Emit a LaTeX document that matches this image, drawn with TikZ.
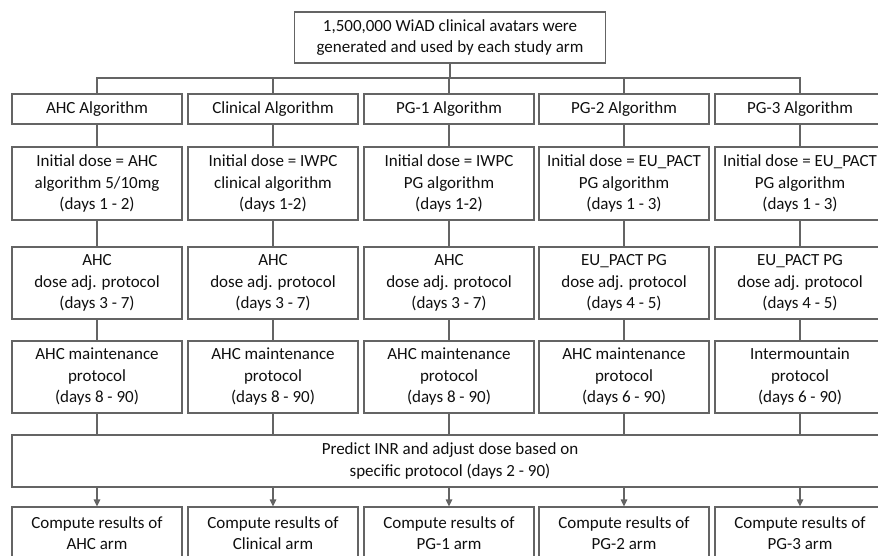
\documentclass[tikz,border=0pt]{standalone}
\usepackage{fontspec}
\setmainfont{Carlito}
\usetikzlibrary{arrows.meta}
\definecolor{linegray}{RGB}{100,100,100}
\definecolor{textgray}{RGB}{15,15,15}
\begin{document}
\begin{tikzpicture}[>={Triangle[length=7pt, width=6.5pt]}, x=1pt, y=-1pt,
        font=\fontsize{17}{21.5}\selectfont, text=textgray,
        box/.style={draw=linegray, line width=1.2pt, inner sep=0pt, align=center, minimum width=170pt},
        link/.style={draw=linegray, line width=1.2pt}]

        \useasboundingbox (0,0) rectangle (878,556);
        \clip (0,0) rectangle (878,556);

        % -----------------------
        % 1. Avatars Node
        % -----------------------
        \node[box, minimum width=311pt, minimum height=51pt] (avatars) at (450, 37.5) {
            1,500,000 WiAD clinical avatars were \\
            generated and used by each study arm
        };

        % -----------------------
        % 2. Algorithm Nodes
        % -----------------------
        \node[box, minimum height=30pt] (alg1) at (97, 109) {AHC Algorithm};
        \node[box, minimum height=30pt] (alg2) at (273, 109) {Clinical Algorithm};
        \node[box, minimum height=30pt] (alg3) at (449, 109) {PG-1 Algorithm};
        \node[box, minimum height=30pt] (alg4) at (624, 109) {PG-2 Algorithm};
        \node[box, minimum height=30pt] (alg5) at (800, 109) {PG-3 Algorithm};

        % -----------------------
        % 3. Initial Dose Nodes
        % -----------------------
        \node[box, minimum height=73pt] (init1) at (97, 183.5) {
            Initial dose = AHC \\ algorithm 5/10mg \\ (days 1 - 2)
        };
        \node[box, minimum height=73pt] (init2) at (273, 183.5) {
            Initial dose = IWPC \\ clinical algorithm \\ (days 1-2)
        };
        \node[box, minimum height=73pt] (init3) at (449, 183.5) {
            Initial dose = IWPC \\ PG algorithm \\ (days 1-2)
        };
        \node[box, minimum height=73pt] (init4) at (624, 183.5) {
            Initial dose = EU\_PACT \\ PG algorithm \\ (days 1 - 3)
        };
        \node[box, minimum height=73pt] (init5) at (800, 183.5) {
            Initial dose = EU\_PACT \\ PG algorithm \\ (days 1 - 3)
        };

        % -----------------------
        % 4. Dose Adjustment Nodes
        % -----------------------
        \node[box, minimum height=72pt] (adj1) at (97, 283) {
            AHC \\ dose adj. protocol \\ (days 3 - 7)
        };
        \node[box, minimum height=72pt] (adj2) at (273, 283) {
            AHC \\ dose adj. protocol \\ (days 3 - 7)
        };
        \node[box, minimum height=72pt] (adj3) at (449, 283) {
            AHC \\ dose adj. protocol \\ (days 3 - 7)
        };
        \node[box, minimum height=72pt] (adj4) at (624, 283) {
            EU\_PACT PG \\ dose adj. protocol \\ (days 4 - 5)
        };
        \node[box, minimum height=72pt] (adj5) at (800, 283) {
            EU\_PACT PG \\ dose adj. protocol \\ (days 4 - 5)
        };

        % -----------------------
        % 5. Maintenance Nodes
        % -----------------------
        \node[box, minimum height=72pt] (maint1) at (97, 377) {
            AHC maintenance \\ protocol \\ (days 8 - 90)
        };
        \node[box, minimum height=72pt] (maint2) at (273, 377) {
            AHC maintenance \\ protocol \\ (days 8 - 90)
        };
        \node[box, minimum height=72pt] (maint3) at (449, 377) {
            AHC maintenance \\ protocol \\ (days 8 - 90)
        };
        \node[box, minimum height=72pt] (maint4) at (624, 377) {
            AHC maintenance \\ protocol \\ (days 6 - 90)
        };
        \node[box, minimum height=72pt] (maint5) at (800, 377) {
            Intermountain \\ protocol \\ (days 6 - 90)
        };

        % -----------------------
        % 6. Predict Node (Full Width)
        % -----------------------
        \node[box, minimum width=876pt, minimum height=52pt] (predict) at (450, 461) {
            Predict INR and adjust dose based on \\
            specific protocol (days 2 - 90)
        };

        % -----------------------
        % 7. Result Nodes
        % -----------------------
        \node[box, minimum height=52pt] (res1) at (97, 533) {Compute results of \\ AHC arm};
        \node[box, minimum height=52pt] (res2) at (273, 533) {Compute results of \\ Clinical arm};
        \node[box, minimum height=52pt] (res3) at (449, 533) {Compute results of \\ PG-1 arm};
        \node[box, minimum height=52pt] (res4) at (624, 533) {Compute results of \\ PG-2 arm};
        \node[box, minimum height=52pt] (res5) at (800, 533) {Compute results of \\ PG-3 arm};

        % -----------------------
        % Connections (Lines)
        % -----------------------
        % Avatars -> bus -> each algorithm
        \coordinate (bus) at (450, 78);
        \draw[link] (avatars.south) -- (bus);
        \draw[link] (alg1.north) |- (bus) -| (alg5.north);
        \draw[link] (bus -| alg2) -- (alg2.north);
        \draw[link] (bus -| alg3) -- (alg3.north);
        \draw[link] (bus -| alg4) -- (alg4.north);

        % Down each column
        \draw[link] (alg1.south) -- (init1.north) (init1.south) -- (adj1.north) (adj1.south) -- (maint1.north);
        \draw[link] (alg2.south) -- (init2.north) (init2.south) -- (adj2.north) (adj2.south) -- (maint2.north);
        \draw[link] (alg3.south) -- (init3.north) (init3.south) -- (adj3.north) (adj3.south) -- (maint3.north);
        \draw[link] (alg4.south) -- (init4.north) (init4.south) -- (adj4.north) (adj4.south) -- (maint4.north);
        \draw[link] (alg5.south) -- (init5.north) (init5.south) -- (adj5.north) (adj5.south) -- (maint5.north);

        % Maintenance -> Predict
        \draw[link] (maint1.south) -- (maint1.south |- predict.north);
        \draw[link] (maint2.south) -- (maint2.south |- predict.north);
        \draw[link] (maint3.south) -- (maint3.south |- predict.north);
        \draw[link] (maint4.south) -- (maint4.south |- predict.north);
        \draw[link] (maint5.south) -- (maint5.south |- predict.north);

        % Predict -> Results (Arrows)
        \draw[link, ->] (res1.north |- predict.south) -- (res1.north);
        \draw[link, ->] (res2.north |- predict.south) -- (res2.north);
        \draw[link, ->] (res3.north |- predict.south) -- (res3.north);
        \draw[link, ->] (res4.north |- predict.south) -- (res4.north);
        \draw[link, ->] (res5.north |- predict.south) -- (res5.north);

    \end{tikzpicture}
\end{document}
